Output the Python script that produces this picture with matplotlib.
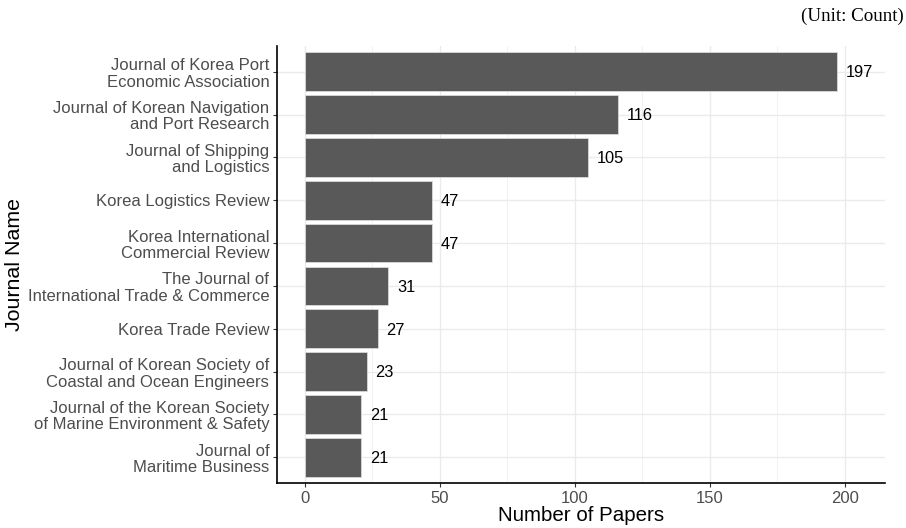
import matplotlib.pyplot as plt

journals = [
    'Journal of Korea Port\nEconomic Association',
    'Journal of Korean Navigation\nand Port Research',
    'Journal of Shipping\nand Logistics',
    'Korea Logistics Review',
    'Korea International\nCommercial Review',
    'The Journal of\nInternational Trade & Commerce',
    'Korea Trade Review',
    'Journal of Korean Society of\nCoastal and Ocean Engineers',
    'Journal of the Korean Society\nof Marine Environment & Safety',
    'Journal of\nMaritime Business',
]
papers = [197, 116, 105, 47, 47, 31, 27, 23, 21, 21]
x_ticks = [0, 50, 100, 150, 200]

plt.rcParams['font.family'] = ['Liberation Sans', 'DejaVu Sans']

fig = plt.figure(figsize=(9.06, 5.28), dpi=100)
ax = fig.add_axes([277 / 906, 1 - 483 / 528, (885 - 277) / 906, (483 - 46) / 528])

pos = list(range(len(journals)))
ax.barh(pos, papers, height=0.9, color='#595959', edgecolor='#d9d9d9', linewidth=0.6, zorder=2)
for p, v in zip(pos, papers):
    ax.text(v + 3.2, p + 0.03, str(v), va='center', ha='left', fontsize=11.8, color='black', zorder=3)

ax.set_ylim(len(journals) - 0.4, -0.6)
ax.set_xlim(-10.2, 214.8)
ax.set_yticks(pos)
ax.set_yticklabels(journals, fontsize=12, color='#4d4d4d', linespacing=1.12)
ax.set_xticks(x_ticks)
ax.set_xticklabels([str(t) for t in x_ticks], fontsize=12, color='#4d4d4d')
ax.set_xticks([25, 75, 125, 175], minor=True)

ax.grid(True, which='major', color='#ebebeb', linewidth=1.0, zorder=0)
ax.grid(True, which='minor', axis='x', color='#ebebeb', linewidth=0.5, zorder=0)
ax.set_axisbelow(True)
for s in ['top', 'right']:
    ax.spines[s].set_visible(False)
for s in ['left', 'bottom']:
    ax.spines[s].set_color('black')
    ax.spines[s].set_linewidth(1.2)
ax.tick_params(axis='both', which='major', length=3, color='#333333', pad=2.5)
ax.tick_params(axis='both', which='minor', length=0)

ax.set_xlabel('Number of Papers', fontsize=14.8, labelpad=0)
ax.set_ylabel('Journal Name', fontsize=15.4, labelpad=3)

fig.text(0.998, 0.985, '(Unit: Count)', ha='right', va='top', fontsize=13.7,
         family=['Liberation Serif', 'DejaVu Serif'])

fig.savefig('out.png', dpi=100)
